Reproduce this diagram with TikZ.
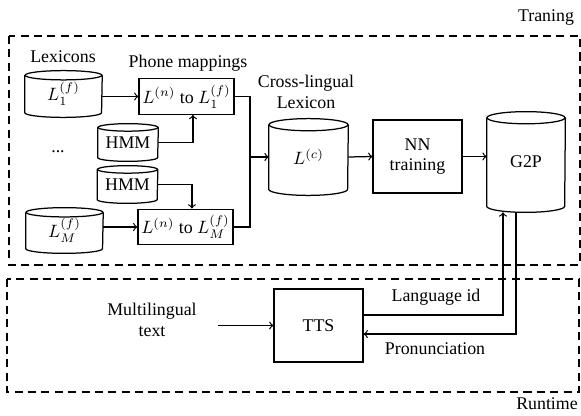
\documentclass[tikz,border=0pt]{standalone}
\usepackage{fontspec}
\setmainfont{Liberation Serif}
\tikzset{
  box/.style={draw, line width=0.7pt, inner sep=0pt, align=center},
  cyl/.style={inner sep=0pt, align=center},
  area/.style={line width=0.9pt, dash pattern=on 4.5pt off 3pt},
  lbl/.style={inner sep=0pt, align=center},
  conn/.style={line width=0.7pt}
}
% outline of a drum: node name, x radius, y radius
\newcommand\drum[3]{%
  \draw[line width=0.7pt] ([yshift=-#3]#1.north west) -- ([yshift=#3]#1.south west)
    arc[start angle=180, end angle=360, x radius=#2, y radius=#3]
    -- ([yshift=-#3]#1.north east);
  \draw[line width=0.7pt] ([yshift=-#3]#1.north) ellipse [x radius=#2, y radius=#3];
}
\begin{document}
\begin{tikzpicture}[x=0.56pt, y=-0.56pt, font=\fontsize{10}{11.5}\selectfont]
\useasboundingbox (0,0) rectangle (581,415);
% training / runtime areas
\draw[area] (9,36) rectangle (580,265);
\draw[area] (7,279) rectangle (579,392);
\node[lbl] (train) at (546,18) {Traning};
\node[lbl] (run) at (547,404) {Runtime};
% lexicons
\node[lbl] (lexlbl) at (63,57) {Lexicons};
\node[cyl, minimum width=43pt, minimum height=25.8pt] (lexA) at (63.5,94) {$L_1^{(f)}$};
\node[lbl] (dots) at (58,152) {...};
\node[cyl, minimum width=43pt, minimum height=25.2pt] (lexM) at (64.5,230.5) {$L_M^{(f)}$};
\drum{lexA}{21.5pt}{2.6pt}
\drum{lexM}{21.5pt}{2.6pt}
% phone mappings
\node[lbl] (maplbl) at (188,63) {Phone mappings};
\node[box, minimum width=53.2pt, minimum height=20pt] (mapA) at (186.5,96.5) {$L^{(n)}$ to $L_1^{(f)}$};
\node[box, minimum width=53.2pt, minimum height=20pt] (mapM) at (185.5,227) {$L^{(n)}$ to $L_M^{(f)}$};
\node[cyl, minimum width=33.6pt, minimum height=20.7pt] (hmmA) at (128,142.5) {HMM};
\node[cyl, minimum width=33.6pt, minimum height=20.7pt] (hmmB) at (127.5,184.5) {HMM};
\drum{hmmA}{16.8pt}{2.1pt}
\drum{hmmB}{16.8pt}{2.1pt}
% cross-lingual lexicon, nn, g2p
\node[lbl] (lexClbl) at (306,92) {Cross-lingual\\Lexicon};
\node[cyl, minimum width=44.2pt, minimum height=42.6pt] (lexC) at (308.5,157) {$L^{(c)}$};
\drum{lexC}{22.1pt}{3.4pt}
\node[box, minimum width=49.8pt, minimum height=40.9pt] (nn) at (417.5,156.5) {NN\\training};
\node[cyl, minimum width=43.7pt, minimum height=56pt] (gtp) at (526,162) {G2P};
\drum{gtp}{21.85pt}{3.4pt}
% runtime
\node[lbl] (mtext) at (152,320) {Multilingual\\text};
\node[box, minimum width=49.8pt, minimum height=40.9pt] (tts) at (318.5,325.5) {TTS};
\node[lbl] (langlbl) at (436,297) {Language id};
\node[lbl] (pronlbl) at (435,349) {Pronunciation};
\coordinate (join) at (250,157);
\coordinate (src) at (218,325.5);
% connectors
\draw[conn, ->] (lexA.east |- mapA) -- (mapA.west);
\draw[conn, ->] (lexM.east |- mapM) -- (mapM.west);
\draw[conn, ->] (hmmA.east) -| ([xshift=3.6pt]mapA.south);
\draw[conn, ->] (hmmB.east) -| ([xshift=3.6pt]mapM.north);
\draw[conn] (mapA.east) -| (join) |- (mapM.east);
\draw[conn, ->] (join) -- (lexC.west);
\draw[conn, ->] (lexC.east) -- (nn.west);
\draw[conn, ->] (nn.east) -- (nn.east -| gtp.west);
\draw[conn, ->] (src) -- (tts.west);
\draw[conn, ->] ([yshift=5.9pt]tts.east) -| ([xshift=-12.9pt]gtp.south);
\draw[conn, ->] ([xshift=-5.6pt]gtp.south) |- ([yshift=-4.8pt]tts.east);
\end{tikzpicture}
\end{document}
